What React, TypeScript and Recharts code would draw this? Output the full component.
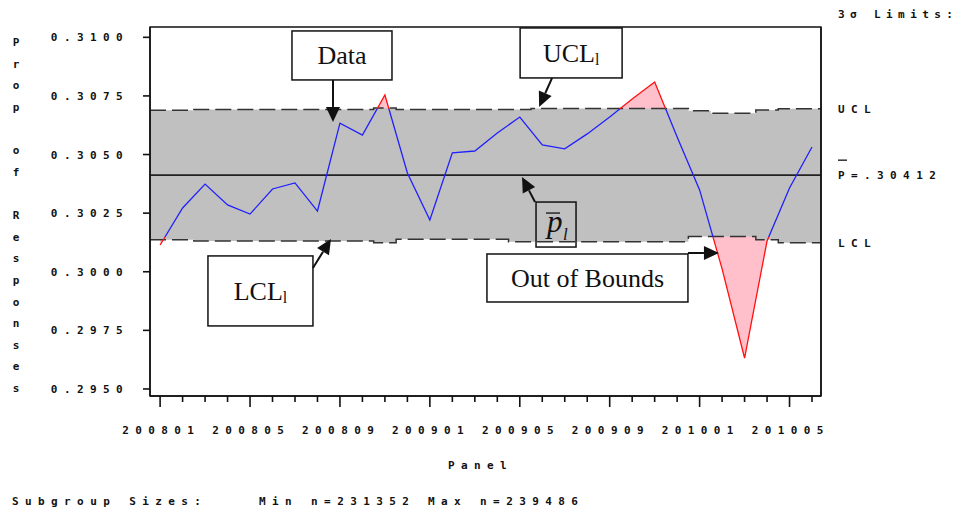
import React from 'react';
import {
  Area,
  ComposedChart,
  Line,
  ReferenceArea,
  ReferenceDot,
  XAxis,
  YAxis,
} from 'recharts';

const months = [
  '200801', '200802', '200803', '200804', '200805', '200806', '200807', '200808', '200809', '200810', '200811', '200812',
  '200901', '200902', '200903', '200904', '200905', '200906', '200907', '200908', '200909', '200910', '200911', '200912',
  '201001', '201002', '201003', '201004', '201005', '201006',
];

// proportion of responses per panel month
const proportions = [
  0.30114, 0.30272, 0.30374, 0.30285, 0.30246, 0.30353, 0.30379, 0.30259, 0.30634, 0.30583, 0.30754, 0.30421,
  0.30221, 0.30507, 0.30515, 0.30592, 0.3066, 0.30541, 0.30524, 0.30588, 0.3066, 0.30737, 0.30809, 0.30575,
  0.30349, 0.30012, 0.29632, 0.30131, 0.30357, 0.30532,
];

// 3 sigma limits (vary a little with the subgroup size)
const upperLimits = [
  0.30689, 0.30689, 0.30692, 0.30692, 0.30692, 0.30692, 0.30692, 0.30692, 0.30692, 0.30692, 0.30699, 0.30692,
  0.30692, 0.30692, 0.30692, 0.30692, 0.30692, 0.30696, 0.30696, 0.30696, 0.30696, 0.30696, 0.30696, 0.30696,
  0.30687, 0.30676, 0.30676, 0.3069, 0.30695, 0.30695,
];
const lowerLimits = [
  0.30136, 0.30136, 0.30131, 0.30131, 0.30131, 0.30131, 0.30131, 0.30131, 0.30131, 0.30131, 0.30124, 0.30139,
  0.30139, 0.30139, 0.30139, 0.30139, 0.30128, 0.30128, 0.30128, 0.30128, 0.30128, 0.30128, 0.30128, 0.30128,
  0.3015, 0.3015, 0.3015, 0.30136, 0.30124, 0.30124,
];

const centerLine = 0.30412;
const yTicks = [0.295, 0.2975, 0.3, 0.3025, 0.305, 0.3075, 0.31];
const minN = 231352;
const maxN = 239486;
const yTitle = 'Prop of Responses';

const X_DOMAIN: [number, number] = [-0.45, 29.4];
const Y_DOMAIN: [number, number] = [0.2947, 0.31044];
const MONO = "'DejaVu Sans Mono', 'Liberation Mono', monospace";
const SERIF = "'Liberation Serif', 'Times New Roman', serif";
const SPACING = 6.4;
const INK = '#111';

const last = months.length - 1;
const rows = months.map((m, i) => ({
  x: i,
  month: m,
  value: proportions[i],
  ucl: upperLimits[i],
  lcl: lowerLimits[i],
  band: [lowerLimits[i], upperLimits[i]],
  center: centerLine,
}));
// limits run out to the frame on both sides
const chartData = [
  { x: X_DOMAIN[0], ucl: upperLimits[0], lcl: lowerLimits[0], band: [lowerLimits[0], upperLimits[0]], center: centerLine },
  ...rows,
  { x: X_DOMAIN[1], ucl: upperLimits[last], lcl: lowerLimits[last], band: [lowerLimits[last], upperLimits[last]], center: centerLine },
];
const monthTicks = months.map((_, i) => i);

// colour switch of the data line, in the line's own bounding box
const hi = Math.max(...proportions);
const lo = Math.min(...proportions);
const offUpper = (hi - upperLimits[proportions.indexOf(hi)]) / (hi - lo);
const offLower = (hi - lowerLimits[proportions.indexOf(lo)]) / (hi - lo);

type Note = {
  kind: 'data' | 'ucl' | 'pbar' | 'lcl' | 'oob';
  at: [number, number];
  box: [number, number, number, number];
  from: [number, number];
  filled: boolean;
};

const callouts: Note[] = [
  { kind: 'data', at: [7.69, 0.30639], box: [-41, -91, 100, 49], from: [0, -42], filled: true },
  { kind: 'ucl', at: [16.86, 0.30703], box: [-19, -79, 102, 50], from: [13, -29], filled: true },
  { kind: 'pbar', at: [16.1, 0.30404], box: [14, 25, 40, 45], from: [13, 25], filled: false },
  { kind: 'lcl', at: [7.6, 0.3014], box: [-123, 17, 105, 70], from: [-18, 29], filled: true },
  { kind: 'oob', at: [24.86, 0.3008], box: [-232, 1, 201, 48], from: [-31, 0], filled: true },
];

function CalloutText({ kind, x, y, w, h }: { kind: Note['kind']; x: number; y: number; w: number; h: number }) {
  const mx = x + w / 2;
  const base = y + h / 2 + 9;
  if (kind === 'pbar') {
    return (
      <g fontFamily={SERIF} fontStyle="italic" fill={INK}>
        <line x1={x + 10} x2={x + 24} y1={y + 11} y2={y + 11} stroke={INK} strokeWidth={1.3} />
        <text x={x + 11} y={y + 30} fontSize={31}>p</text>
        <text x={x + 27} y={y + 38} fontSize={17}>l</text>
      </g>
    );
  }
  if (kind === 'ucl' || kind === 'lcl') {
    return (
      <text x={mx} y={base} textAnchor="middle" fontFamily={SERIF} fontSize={26} fill={INK}>
        {kind === 'ucl' ? 'UCL' : 'LCL'}
        <tspan fontSize={16} dy={3}>l</tspan>
      </text>
    );
  }
  return (
    <text x={mx} y={base} textAnchor="middle" fontFamily={SERIF} fontSize={26} fill={INK}>
      {kind === 'data' ? 'Data' : 'Out of Bounds'}
    </text>
  );
}

function Callout(props: any) {
  const { cx, cy, note } = props as { cx: number; cy: number; note: Note };
  const [dx, dy, w, h] = note.box;
  const fx = cx + note.from[0];
  const fy = cy + note.from[1];
  const ang = Math.atan2(cy - fy, cx - fx);
  const c = Math.cos(ang);
  const s = Math.sin(ang);
  const head = 15;
  const half = 7;
  const hx = cx - head * c;
  const hy = cy - head * s;
  return (
    <g>
      <rect x={cx + dx} y={cy + dy} width={w} height={h} fill={note.filled ? '#fff' : 'none'} stroke={INK} strokeWidth={1.5} />
      <line x1={fx} y1={fy} x2={hx} y2={hy} stroke={INK} strokeWidth={2} />
      <polygon points={`${cx},${cy} ${hx - half * s},${hy + half * c} ${hx + half * s},${hy - half * c}`} fill={INK} />
      <CalloutText kind={note.kind} x={cx + dx} y={cy + dy} w={w} h={h} />
    </g>
  );
}

const monoText = { fontFamily: MONO, fontSize: 11, fontWeight: 'bold', letterSpacing: SPACING, fill: INK };

function MonthTick(props: any) {
  const { x, y, payload } = props;
  const i = payload.value as number;
  const major = i % 4 === 0;
  return (
    <g>
      <line x1={x} x2={x} y1={y} y2={y + (major ? 11 : 6)} stroke={INK} strokeWidth={1.6} />
      {major && (
        <text x={x + SPACING / 2 - 2} y={y + 38} textAnchor="middle" {...monoText}>
          {months[i]}
        </text>
      )}
    </g>
  );
}

function ValueTick(props: any) {
  const { x, y, payload } = props;
  return (
    <text x={x} y={y + 4} textAnchor="end" {...monoText}>
      {Number(payload.value).toFixed(4)}
    </text>
  );
}

function LimitTick(props: any) {
  const { x, y, payload } = props;
  const v = Number(payload.value);
  let label = 'UCL';
  if (v === centerLine) label = 'P=' + centerLine.toFixed(5).replace(/^0/, '');
  else if (v < centerLine) label = 'LCL';
  return (
    <g>
      {v === centerLine && <line x1={x} x2={x + 9} y1={y - 15} y2={y - 15} stroke={INK} strokeWidth={1.3} />}
      <text x={x} y={y + 4} textAnchor="start" {...monoText}>
        {label}
      </text>
    </g>
  );
}

function VerticalTitle(props: any) {
  const { x, y, height } = props.viewBox;
  const chars = yTitle.split('');
  const step = (height - 23) / (chars.length - 1);
  return (
    <text fontFamily={MONO} fontSize={11} fontWeight="bold" fill={INK} textAnchor="middle">
      {chars.map((ch, k) => (
        <tspan key={k} x={x + 16} y={y + 19 + k * step}>
          {ch}
        </tspan>
      ))}
    </text>
  );
}

function LimitsTitle(props: any) {
  const { x, y } = props.viewBox;
  return (
    <text x={x + 17} y={y - 9} {...monoText} letterSpacing={5.4}>
      3σ Limits:
    </text>
  );
}

function AxisFooter(props: any) {
  const { x, y, width } = props.viewBox;
  return (
    <g>
      <text x={x + width / 2 - 5} y={y + 73} textAnchor="middle" {...monoText}>Panel</text>
      <text x={12} y={y + 109} {...monoText}>Subgroup Sizes:</text>
      <text x={259} y={y + 109} {...monoText}>{`Min n=${minN}`}</text>
      <text x={428} y={y + 109} {...monoText}>{`Max n=${maxN}`}</text>
    </g>
  );
}

export default function App() {
  return (
    <div style={{ position: 'absolute', left: 0, top: 0, width: 963, height: 512, background: '#fff' }}>
      <ComposedChart width={963} height={512} data={chartData} margin={{ top: 27, right: 0, bottom: 0, left: 0 }}>
        <defs>
          <linearGradient id="lineColour" x1="0" y1="0" x2="0" y2="1">
            <stop offset={0} stopColor="#ff1010" />
            <stop offset={offUpper} stopColor="#ff1010" />
            <stop offset={offUpper} stopColor="#2020ff" />
            <stop offset={offLower} stopColor="#2020ff" />
            <stop offset={offLower} stopColor="#ff1010" />
            <stop offset={1} stopColor="#ff1010" />
          </linearGradient>
        </defs>
        <XAxis
          dataKey="x"
          type="number"
          domain={X_DOMAIN}
          ticks={monthTicks}
          interval={0}
          height={116}
          tickSize={0}
          tickMargin={0}
          tickLine={false}
          tick={(p: any) => <MonthTick {...p} />}
          axisLine={{ stroke: INK, strokeWidth: 1.6 }}
          label={<AxisFooter />}
          allowDataOverflow
        />
        <YAxis
          type="number"
          domain={Y_DOMAIN}
          ticks={yTicks}
          interval={0}
          width={150}
          tickSize={7}
          tickMargin={14}
          tickLine={{ stroke: INK, strokeWidth: 1.6 }}
          axisLine={{ stroke: INK, strokeWidth: 1.6 }}
          tick={(p: any) => <ValueTick {...p} />}
          label={<VerticalTitle />}
          allowDataOverflow
        />
        <YAxis
          yAxisId="limits"
          orientation="right"
          type="number"
          domain={Y_DOMAIN}
          ticks={[upperLimits[last], centerLine, lowerLimits[last]]}
          interval={0}
          width={142}
          tickSize={0}
          tickMargin={17}
          tickLine={false}
          axisLine={{ stroke: INK, strokeWidth: 1.6 }}
          tick={(p: any) => <LimitTick {...p} />}
          label={<LimitsTitle />}
          allowDataOverflow
        />
        <Area dataKey="value" baseValue={centerLine} type="linear" fill="#ffc0cb" fillOpacity={1} stroke="none" isAnimationActive={false} />
        <Area dataKey="band" type="step" fill="#c0c0c0" fillOpacity={1} stroke="none" isAnimationActive={false} />
        <Line dataKey="center" type="linear" stroke="#222" strokeWidth={1.6} dot={false} isAnimationActive={false} />
        <Line dataKey="ucl" type="step" stroke="#333" strokeWidth={1.5} strokeDasharray="16 6" dot={false} isAnimationActive={false} />
        <Line dataKey="lcl" type="step" stroke="#333" strokeWidth={1.5} strokeDasharray="16 6" dot={false} isAnimationActive={false} />
        <Line dataKey="value" type="linear" stroke="url(#lineColour)" strokeWidth={1.3} dot={false} isAnimationActive={false} />
        <ReferenceArea x1={X_DOMAIN[0]} x2={X_DOMAIN[1]} y1={Y_DOMAIN[0]} y2={Y_DOMAIN[1]} fill="none" fillOpacity={0} stroke={INK} strokeWidth={1.3} />
        {callouts.map((n) => (
          <ReferenceDot key={n.kind} x={n.at[0]} y={n.at[1]} r={0} shape={(p: any) => <Callout {...p} note={n} />} />
        ))}
      </ComposedChart>
    </div>
  );
}
